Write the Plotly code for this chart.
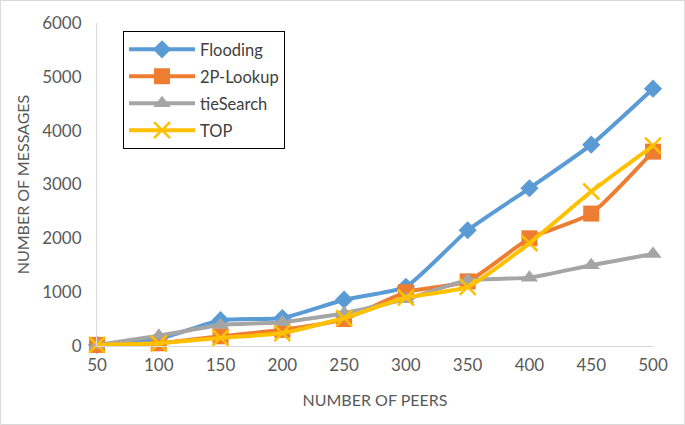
import plotly.graph_objects as go

peers = ["50", "100", "150", "200", "250", "300", "350", "400", "450", "500"]
flooding = [20, 130, 480, 520, 860, 1100, 2150, 2930, 3740, 4780]
lookup2p = [20, 50, 180, 300, 500, 1000, 1200, 2000, 2460, 3610]
tiesearch = [20, 190, 390, 440, 610, 870, 1220, 1270, 1500, 1710]
top = [20, 50, 150, 240, 520, 900, 1100, 1910, 2870, 3720]

series = [
    ("Flooding", flooding, "#5B9BD5", dict(symbol="diamond", size=14)),
    ("2P-Lookup", lookup2p, "#ED7D31", dict(symbol="square", size=16)),
    ("tieSearch", tiesearch, "#A5A5A5", dict(symbol="triangle-up", size=15)),
    ("TOP", top, "#FFC000", dict(symbol="x-thin", size=16, line=dict(width=2.5, color="#FFC000"))),
]

fig = go.Figure()
for name, vals, col, mk in series:
    fig.add_trace(go.Scatter(
        x=peers, y=vals, name=name, mode="lines+markers", legendgroup=name,
        line=dict(color=col, width=4, shape="spline", smoothing=0.5),
        marker=dict(color=col, **mk),
        cliponaxis=False,
    ))

FONT = "Lato, Open Sans, sans-serif"
fig.update_layout(
    width=685, height=425,
    margin=dict(l=97, r=32, t=23, b=79),
    paper_bgcolor="white", plot_bgcolor="white",
    font=dict(family=FONT, color="#595959", size=16),
    showlegend=True,
    legend=dict(
        x=0.0468, y=0.975, xanchor="left", yanchor="top",
        bordercolor="black", borderwidth=1, bgcolor="white",
        font=dict(size=16.5, color="#404040"),
        tracegroupgap=2.5, itemwidth=66,
    ),
    xaxis=dict(
        type="category", range=[0, 9], showgrid=False, automargin=False,
        showline=True, linecolor="#d9d9d9", linewidth=1,
        ticks="", tickfont=dict(size=17, color="#595959"), ticklabelstandoff=4,
        title=dict(text="NUMBER OF PEERS", font=dict(size=16, color="#595959"), standoff=20),
    ),
    yaxis=dict(
        range=[0, 6000], dtick=1000, showgrid=False, automargin=False,
        showline=True, linecolor="#d9d9d9", linewidth=1,
        zeroline=False, ticks="", tickfont=dict(size=17, color="#595959"), ticklabelstandoff=11,
        title=dict(text="NUMBER OF MESSAGES", font=dict(size=16, color="#595959"), standoff=8),
    ),
    shapes=[dict(
        type="rect", xref="paper", yref="paper",
        x0=-0.1736, x1=1.0570, y0=-0.2430, y1=1.0697,
        line=dict(color="#d9d9d9", width=1), layer="below",
    )],
)

fig.write_html("out.html", config={"displayModeBar": False},
               post_script="document.body.style.margin='0';document.body.style.padding='0';")
